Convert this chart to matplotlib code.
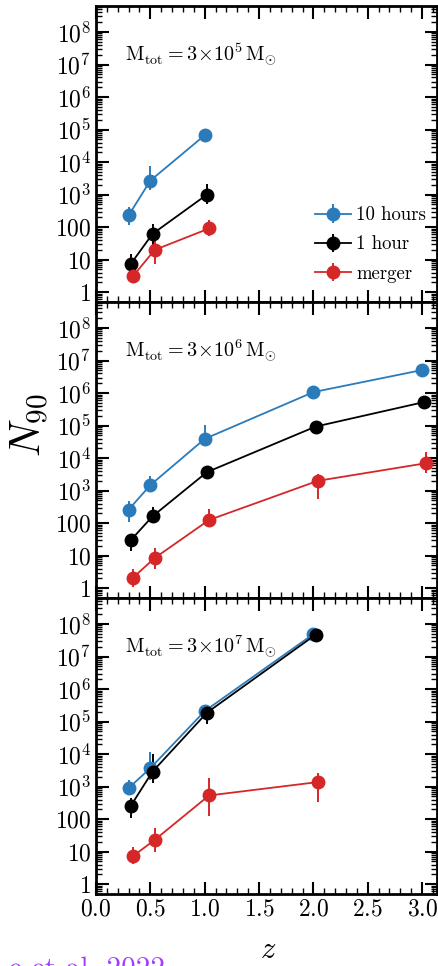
import matplotlib
matplotlib.use("Agg")
import matplotlib.pyplot as plt
import numpy as np
from matplotlib.ticker import LogLocator, FuncFormatter, NullFormatter, MultipleLocator, FixedLocator

plt.rcParams['font.family'] = 'serif'
plt.rcParams['font.serif'] = ['cmr10', 'DejaVu Serif']
plt.rcParams['mathtext.fontset'] = 'cm'
plt.rcParams['axes.formatter.use_mathtext'] = True

# ---- data ----
series_labels = ["10 hours", "1 hour", "merger"]
series_colors = ["#2b7bba", "#000000", "#d62728"]
series_dz = [0.0, 0.02, 0.04]

panel_masses = ["5", "6", "7"]

# panel 1: M_tot = 3e5
p1_z = [[0.3, 0.5, 1.0], [0.3, 0.5, 1.0], [0.3, 0.5, 1.0]]
p1_n = [[230, 2700, 6.7e4], [7.4, 62, 1000], [3.1, 20, 91]]
p1_up = [[0.26, 0.45, 0.10], [0.31, 0.29, 0.33], [0.12, 0.28, 0.25]]
p1_lo = [[0.31, 0.28, 0.10], [0.26, 0.36, 0.29], [0.18, 0.44, 0.22]]

# panel 2: M_tot = 3e6
p2_z = [[0.3, 0.5, 1.0, 2.0, 3.0]] * 3
p2_n = [[260, 1480, 3.9e4, 1.07e6, 5.1e6],
        [30, 162, 3700, 9.3e4, 5.3e5],
        [2.1, 8.5, 125, 2000, 7000]]
p2_up = [[0.28, 0.27, 0.42, 0.10, 0.10],
         [0.20, 0.28, 0.10, 0.10, 0.10],
         [0.27, 0.31, 0.34, 0.20, 0.33]]
p2_lo = [[0.39, 0.22, 0.20, 0.10, 0.10],
         [0.33, 0.18, 0.10, 0.10, 0.10],
         [0.30, 0.34, 0.22, 0.56, 0.29]]

# panel 3: M_tot = 3e7
p3_z = [[0.3, 0.5, 1.0, 2.0]] * 3
p3_n = [[900, 3700, 2.1e5, 4.9e7],
        [257, 2900, 1.87e5, 4.7e7],
        [7.3, 23, 535, 1380]]
p3_up = [[0.26, 0.51, 0.15, 0.10],
         [0.24, 0.53, 0.20, 0.10],
         [0.29, 0.36, 0.54, 0.28]]
p3_lo = [[0.15, 0.36, 0.15, 0.10],
         [0.38, 0.35, 0.36, 0.10],
         [0.23, 0.36, 0.63, 0.60]]

panels = [(p1_z, p1_n, p1_up, p1_lo), (p2_z, p2_n, p2_up, p2_lo), (p3_z, p3_n, p3_up, p3_lo)]

ytick_vals = [1, 10, 100, 1e3, 1e4, 1e5, 1e6, 1e7, 1e8]


def yfmt(v, pos):
    if v < 999:
        return r"$%d$" % int(round(v))
    return r"$10^{%d}$" % int(round(np.log10(v)))


W, H = 438, 966
fig = plt.figure(figsize=(W / 100, H / 100), dpi=100)

left_px, right_px = 96, 437
top_px = 6
ph = 296
for i, (zs, ns, ups, los) in enumerate(panels):
    y_top = top_px + i * ph
    ax = fig.add_axes([left_px / W, 1 - (y_top + ph) / H, (right_px - left_px) / W, ph / H])
    for k in range(3):
        z = np.array(zs[k]) + series_dz[k]
        n = np.array(ns[k], dtype=float)
        up = n * (10 ** np.array(ups[k]) - 1)
        lo = n * (1 - 10 ** (-np.array(los[k])))
        ax.errorbar(z, n, yerr=[lo, up], fmt='-o', color=series_colors[k],
                    ms=9, lw=1.3, elinewidth=1.4, capsize=0, label=series_labels[k])
    ax.set_yscale('log')
    ax.set_ylim(0.5, 6.3e8)
    ax.set_xlim(0, (right_px - left_px) / 108.7)
    ax.yaxis.set_major_locator(FixedLocator(ytick_vals))
    ax.yaxis.set_major_formatter(FuncFormatter(yfmt))
    ax.yaxis.set_minor_locator(LogLocator(base=10, subs=np.arange(2, 10), numticks=30))
    ax.yaxis.set_minor_formatter(NullFormatter())
    ax.xaxis.set_major_locator(MultipleLocator(0.5))
    ax.xaxis.set_minor_locator(MultipleLocator(0.1))
    ax.tick_params(which='both', direction='in', top=True, right=True, labelsize=17)
    ax.tick_params(which='major', length=9, width=1.5)
    ax.tick_params(which='minor', length=4.5, width=1.0)
    for sp in ax.spines.values():
        sp.set_linewidth(2.0)
    if i < 2:
        ax.tick_params(labelbottom=False)
    else:
        ax.xaxis.set_major_formatter(FuncFormatter(lambda v, p: r"$%.1f$" % v))
    ax.text(0.085, 0.838, r"$\mathrm{M_{tot}}=3\!\times\!10^{%s}\,\mathrm{M_{\odot}}$" % panel_masses[i],
            transform=ax.transAxes, fontsize=14.5, va='center', ha='left')
    if i == 0:
        ax.legend(loc='lower right', frameon=False, fontsize=13.5, handlelength=1.9,
                  handletextpad=0.3, labelspacing=0.6, borderaxespad=0.0,
                  bbox_to_anchor=(0.99, 0.04))

fig.text(30 / W, 1 - 425 / H, r"$N_{90}$", rotation=90, fontsize=30, ha='center', va='center')
fig.text(268 / W, 1 - 950 / H, r"$z$", fontsize=22, ha='center', va='center')
fig.text(165 / W, 1 - 956 / H, "e et al. 2022", color="#a040ff", fontsize=21, ha='right', va='top')

fig.savefig("out.png", dpi=100)
